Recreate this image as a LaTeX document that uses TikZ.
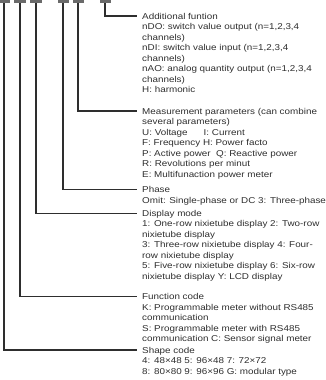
\documentclass[tikz,border=0pt]{standalone}
\usepackage{fontspec}
\setmainfont[FakeStretch=1.16]{Liberation Sans}
\usetikzlibrary{positioning}
\definecolor{inkgray}{HTML}{2E2E2E}
\definecolor{bargray}{HTML}{6A6A6A}

\begin{document}
\begin{tikzpicture}[x=1bp,y=-1bp,
    bar/.style={fill=bargray,minimum width=11bp,minimum height=3bp,inner sep=0pt,outer sep=0pt},
    lead/.style={draw=inkgray,line width=1.1bp},
    info/.style={anchor=north west,align=left,inner sep=0pt,text=inkgray,
        font=\fontsize{8.5bp}{10.5bp}\selectfont}]
    \useasboundingbox (0,0) rectangle (326,380);

    % Code positions
    \foreach \name/\x in {shape/4,func/20,disp/36,phase/63,meas/78,add/105} {
        \node[bar] (\name-bar) at (\x,1.5) {};
    }

    % Entry points of the leaders
    \coordinate (add-in)   at (137,16);
    \coordinate (meas-in)  at (137,111);
    \coordinate (phase-in) at (137,189.5);
    \coordinate (disp-in)  at (137,213.3);
    \coordinate (func-in)  at (137,296.7);
    \coordinate (shape-in) at (137,350);

    % Descriptions
    \node[info] (add-txt) at (142,12.8) {Additional funtion\\
        nDO: switch value output (n=1,2,3,4\\ channels)\\
        nDI: switch value input (n=1,2,3,4\\ channels)\\
        nAO: analog quantity output (n=1,2,3,4\\ channels)\\
        H: harmonic};
    \node[info] (meas-txt) at (142,107.8) {Measurement parameters (can combine\\
        several parameters)\\
        U: Voltage\hspace{16bp}I: Current\\
        F: Frequency H: Power facto\\
        P: Active power\ \ Q: Reactive power\\
        R: Revolutions per minut\\
        E: Multifunaction power meter};
    \node[info] (phase-txt) at (142,186.3) {Phase\\
        Omit: Single-phase or DC 3: Three-phase};
    \node[info] (disp-txt) at (142,210.1) {Display mode\\
        1: One-row nixietube display 2: Two-row\\ nixietube display\\
        3: Three-row nixietube display 4: Four-\\ row nixietube display\\
        5: Five-row nixietube display 6: Six-row\\ nixietube display Y: LCD display};
    \node[info] (func-txt) at (142,293.5) {Function code\\
        K: Programmable meter without RS485\\ communication\\
        S: Programmable meter with RS485\\ communication C: Sensor signal meter};
    \node[info] (shape-txt) at (142,346.8) {Shape code\\
        4: 48×48 5: 96×48 7: 72×72\\
        8: 80×80 9: 96×96 G: modular type};

    % Leaders
    \foreach \name in {add,meas,phase,disp,func,shape} {
        \draw[lead] (\name-bar.south) |- (\name-in);
    }
\end{tikzpicture}
\end{document}
